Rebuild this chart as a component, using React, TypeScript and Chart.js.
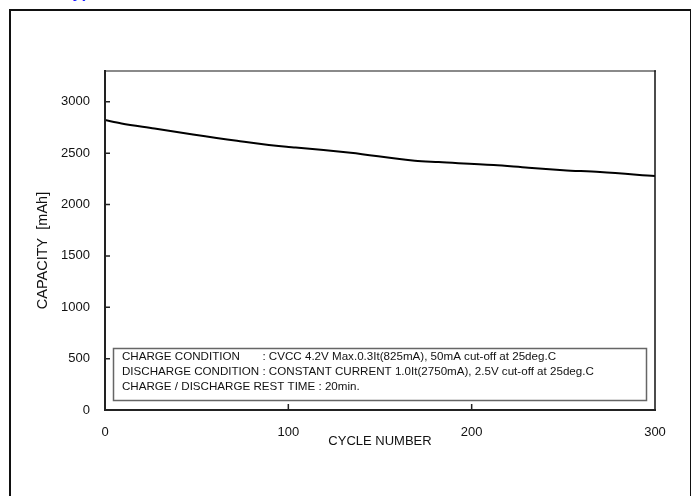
import React, { useEffect, useRef } from "react";
import { Chart, registerables } from "chart.js";

Chart.register(...registerables);

const cycles = [0, 9, 27, 48, 72, 99, 104, 134, 169, 182, 212, 231, 250, 270, 300];
const capacity = [2822, 2790, 2741, 2682, 2621, 2562, 2556, 2504, 2426, 2413, 2384, 2358, 2335, 2316, 2277];
const xTicks = [0, 100, 200, 300];
const yTicks = [0, 500, 1000, 1500, 2000, 2500, 3000];
const noteLines = [
  ["CHARGE CONDITION", ": CVCC 4.2V Max.0.3It(825mA), 50mA cut-off at 25deg.C"],
  ["DISCHARGE CONDITION", ": CONSTANT CURRENT 1.0It(2750mA), 2.5V cut-off at 25deg.C"],
  ["CHARGE / DISCHARGE REST TIME : 20min.", ""],
];
const xTitle = "CYCLE NUMBER";
const yTitle = "CAPACITY  [mAh]";

const FONT = "'Liberation Sans', Arial, Helvetica, sans-serif";

const decorPlugin = {
  id: "decor",
  afterDraw(chart: any) {
    const { ctx, chartArea } = chart;
    const { left, right, top, bottom } = chartArea;
    const xs = chart.scales.x;
    const ys = chart.scales.y;
    ctx.save();
    // plot frame
    ctx.lineCap = "square";
    ctx.strokeStyle = "#8a8a8a";
    ctx.lineWidth = 2;
    ctx.beginPath();
    ctx.moveTo(left, top);
    ctx.lineTo(right, top);
    ctx.stroke();
    ctx.strokeStyle = "#111";
    ctx.lineWidth = 1.5;
    ctx.beginPath();
    ctx.moveTo(right, top);
    ctx.lineTo(right, bottom);
    ctx.stroke();
    ctx.lineWidth = 2;
    ctx.strokeStyle = "#222";
    ctx.beginPath();
    ctx.moveTo(left, top);
    ctx.lineTo(left, bottom);
    ctx.lineTo(right, bottom);
    ctx.stroke();
    // inward ticks
    ctx.lineWidth = 1.5;
    ctx.lineCap = "butt";
    ctx.beginPath();
    yTicks.forEach((v) => {
      if (v === 0) return;
      const y = ys.getPixelForValue(v);
      ctx.moveTo(left, y);
      ctx.lineTo(left + 5, y);
    });
    xTicks.forEach((v) => {
      if (v === 0 || v === 300) return;
      const x = xs.getPixelForValue(v);
      ctx.moveTo(x, bottom);
      ctx.lineTo(x, bottom - 6);
    });
    ctx.stroke();
    // note box
    const bx = left + 8.5;
    const by = top + 277.5;
    const bw = right - left - 17;
    const bh = 52;
    ctx.strokeStyle = "#666";
    ctx.lineWidth = 1.5;
    ctx.strokeRect(bx, by, bw, bh);
    ctx.fillStyle = "#111";
    ctx.font = "11.6px " + FONT;
    ctx.textBaseline = "middle";
    ctx.textAlign = "left";
    const tx = bx + 8.5;
    const colonX = tx + ctx.measureText("DISCHARGE CONDITION ").width;
    noteLines.forEach((ln, i) => {
      const y = by + 8.5 + i * 15;
      ctx.fillText(ln[0], tx, y);
      if (ln[1]) {
        ctx.fillText(ln[1], colonX, y);
      }
    });
    // axis titles
    ctx.font = "13px " + FONT;
    ctx.textAlign = "center";
    ctx.fillText(xTitle, (left + right) / 2, bottom + 31);
    ctx.save();
    ctx.font = "14.5px " + FONT;
    ctx.translate(43, (top + bottom) / 2 + 10);
    ctx.rotate(-Math.PI / 2);
    ctx.fillText(yTitle, 0, 0);
    ctx.restore();
    ctx.restore();
  },
};

export default function App() {
  const ref = useRef<HTMLCanvasElement | null>(null);
  useEffect(() => {
    if (!ref.current) return;
    const chart = new Chart(ref.current, {
      type: "line",
      data: {
        datasets: [
          {
            data: cycles.map((c, i) => ({ x: c, y: capacity[i] })),
            borderColor: "#000",
            borderWidth: 2,
            pointRadius: 0,
            cubicInterpolationMode: "monotone",
            fill: false,
          },
        ],
      },
      options: {
        animation: false,
        responsive: false,
        events: [],
        layout: { padding: { left: 0, top: 71, right: 36, bottom: 0 } },
        plugins: { legend: { display: false }, tooltip: { enabled: false } },
        scales: {
          x: {
            type: "linear",
            min: 0,
            max: 300,
            grid: { display: false, drawTicks: false, tickLength: 0 },
            border: { display: false },
            afterBuildTicks: (s: any) => {
              s.ticks = xTicks.map((v) => ({ value: v }));
            },
            afterFit: (s: any) => {
              s.height = 86;
            },
            ticks: {
              padding: 15,
              color: "#111",
              font: { family: FONT, size: 13 },
              maxRotation: 0,
              autoSkip: false,
              callback: (v: any) => String(v),
            },
          },
          y: {
            type: "linear",
            min: 0,
            max: 3300,
            grid: { display: false, drawTicks: false, tickLength: 0 },
            border: { display: false },
            afterBuildTicks: (s: any) => {
              s.ticks = yTicks.map((v) => ({ value: v }));
            },
            afterFit: (s: any) => {
              s.width = 105;
            },
            ticks: {
              padding: 15,
              color: "#111",
              font: { family: FONT, size: 13 },
              autoSkip: false,
              callback: (v: any) => String(v),
            },
          },
        },
      },
      plugins: [decorPlugin],
    } as any);
    return () => chart.destroy();
  }, []);

  return (
    <div style={{ position: "fixed", left: 0, top: 0, width: 691, height: 496, background: "#fff", overflow: "hidden" }}>
      <div
        style={{
          position: "absolute",
          left: 64,
          top: -16.5,
          color: "#1a1aff",
          fontFamily: FONT,
          fontWeight: "bold",
          fontSize: 16,
          lineHeight: "18px",
          whiteSpace: "nowrap",
        }}
      >
        Typical Characteristics
      </div>
      <div
        style={{
          position: "absolute",
          left: 9,
          top: 9,
          width: 679,
          height: 600,
          border: "2px solid #111",
        }}
      />
      <canvas ref={ref} width={691} height={496} style={{ position: "absolute", left: 0, top: 0, width: 691, height: 496 }} />
    </div>
  );
}
